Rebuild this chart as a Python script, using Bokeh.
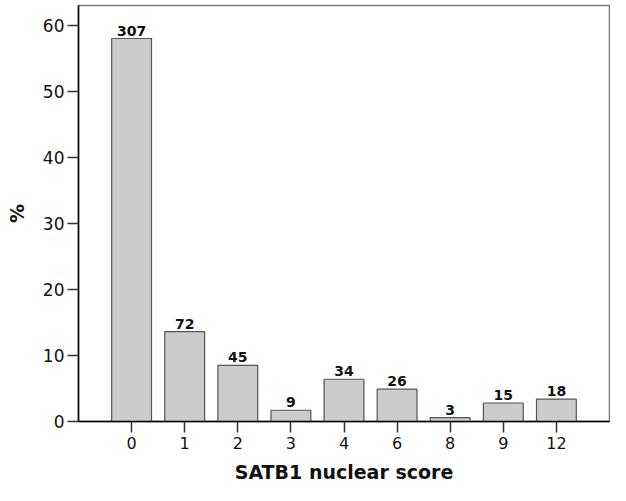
from bokeh.plotting import figure
from bokeh.models import Range1d, FixedTicker, ColumnDataSource, LabelSet
from bokeh.core.properties import value
from bokeh.embed import file_html
from bokeh.resources import INLINE

scores = ["0", "1", "2", "3", "4", "6", "8", "9", "12"]
percent = [58.0, 13.6, 8.5, 1.7, 6.4, 4.9, 0.6, 2.8, 3.4]
counts = ["307", "72", "45", "9", "34", "26", "3", "15", "18"]
y_ticks = [0, 10, 20, 30, 40, 50, 60]

idx = list(range(len(scores)))
src = ColumnDataSource(dict(x=idx, top=percent, label=counts))

FONT = "DejaVu Sans"

p = figure(width=610, height=485, output_backend="svg", toolbar_location=None,
           x_range=Range1d(-1, len(scores)), y_range=Range1d(0, 63.0),
           min_border_left=78, min_border_right=1, min_border_top=5, min_border_bottom=64)

p.vbar(x="x", top="top", width=0.75, source=src,
       fill_color="#cccccc", line_color="#555555", line_width=1.2)

labels = LabelSet(x="x", y="top", text="label", source=src, text_align="center",
                  text_baseline="bottom", y_offset=3, text_font=value(FONT),
                  text_font_size="14px", text_font_style="bold", text_color="#111111")
p.add_layout(labels)

p.xgrid.grid_line_color = None
p.ygrid.grid_line_color = None
p.outline_line_color = "#777777"
p.outline_line_width = 1.5
p.background_fill_color = "white"
p.border_fill_color = "white"

p.xaxis.ticker = FixedTicker(ticks=idx)
p.xaxis.major_label_overrides = {i: s for i, s in zip(idx, scores)}
p.yaxis.ticker = FixedTicker(ticks=y_ticks)

for ax in (p.xaxis, p.yaxis):
    ax.axis_line_color = "black"
    ax.axis_line_width = 1.5
    ax.major_tick_line_color = "#333333"
    ax.major_tick_line_width = 1.5
    ax.major_tick_out = 11
    ax.major_tick_in = 0
    ax.minor_tick_line_color = None
    ax.major_label_text_font = FONT
    ax.major_label_text_color = "#111111"
    ax.axis_label_text_font = FONT
    ax.axis_label_text_font_style = "bold"
    ax.axis_label_text_font_size = "19px"
    ax.axis_label_text_color = "#111111"

p.xaxis.major_label_text_font_size = "16px"
p.yaxis.major_label_text_font_size = "17px"
p.xaxis.major_label_standoff = 4
p.yaxis.major_label_standoff = 3
p.xaxis.axis_label = "SATB1 nuclear score"
p.yaxis.axis_label = "%"
p.xaxis.axis_label_standoff = 9
p.yaxis.axis_label_standoff = 12

open("out.html", "w").write(file_html(p, INLINE))
